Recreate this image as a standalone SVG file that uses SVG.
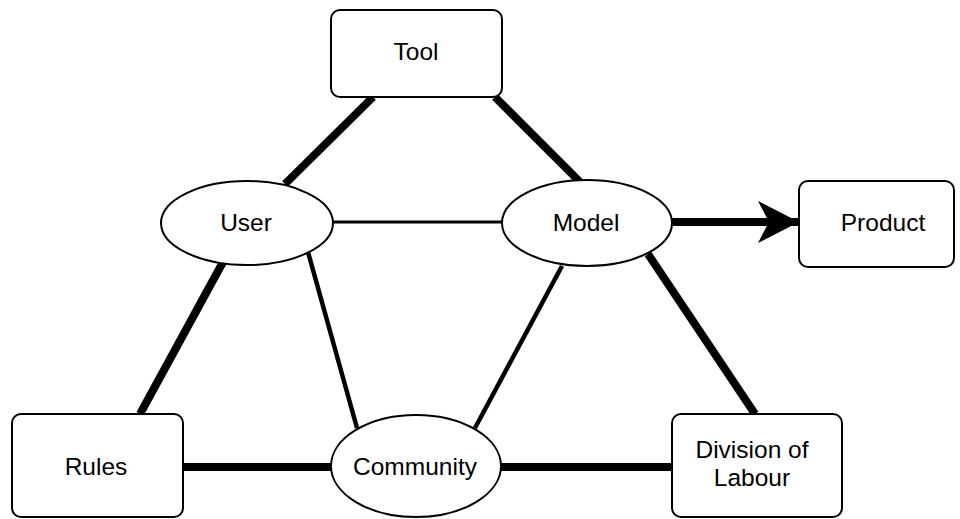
<svg xmlns="http://www.w3.org/2000/svg" width="960" height="519" viewBox="0 0 960 519">
<defs>
<style>
.box{fill:#fff;stroke:#000;stroke-width:2}
.lbl{font-family:"Liberation Sans",Arial,sans-serif;font-size:24.5px;fill:#000;text-anchor:middle}
.thick{stroke:#000;stroke-width:8;fill:none}
.mid{stroke:#000;stroke-width:4.5;fill:none}
.thin{stroke:#000;stroke-width:3;fill:none}
</style>
<marker id="arr" markerUnits="userSpaceOnUse" markerWidth="46" markerHeight="46" refX="41" refY="21" orient="auto">
<path d="M0,0 L41,21 L0,42 L11,21 Z" fill="#000"/>
</marker>
</defs>
<rect width="960" height="519" fill="#fff"/>
<g id="connectors">
<line class="thick" x1="373" y1="97" x2="285" y2="184"/>
<line class="thick" x1="495" y1="97" x2="581" y2="183"/>
<line class="thin" x1="333" y1="222" x2="502" y2="222"/>
<line class="thick" x1="223" y1="262" x2="140" y2="414"/>
<line class="mid" x1="308" y1="252" x2="357" y2="428"/>
<line class="mid" x1="562" y1="266" x2="475" y2="428"/>
<line class="thick" x1="648" y1="254" x2="755" y2="414"/>
<line class="thick" x1="183" y1="467" x2="332" y2="467"/>
<line class="thick" x1="501" y1="467" x2="672" y2="467"/>
<line class="thick" x1="672" y1="222" x2="799" y2="222" marker-end="url(#arr)"/>
</g>
<g id="tool">
<rect class="box" x="331" y="10" width="171" height="87" rx="9"/>
<text class="lbl" x="416" y="60">Tool</text>
</g>
<g id="user">
<ellipse class="box" cx="247" cy="223" rx="86" ry="42"/>
<text class="lbl" x="246" y="231">User</text>
</g>
<g id="model">
<ellipse class="box" cx="587" cy="223" rx="85" ry="43"/>
<text class="lbl" x="586" y="231">Model</text>
</g>
<g id="product">
<rect class="box" x="799" y="181" width="155" height="86" rx="9"/>
<text class="lbl" x="883" y="231">Product</text>
</g>
<g id="rules">
<rect class="box" x="12" y="414" width="171" height="103" rx="9"/>
<text class="lbl" x="96" y="475">Rules</text>
</g>
<g id="community">
<ellipse class="box" cx="416" cy="466" rx="85" ry="51"/>
<text class="lbl" x="415" y="475">Community</text>
</g>
<g id="division">
<rect class="box" x="672" y="414" width="170" height="103" rx="9"/>
<text class="lbl" x="752" y="458">Division of</text>
<text class="lbl" x="752" y="486">Labour</text>
</g>
</svg>
